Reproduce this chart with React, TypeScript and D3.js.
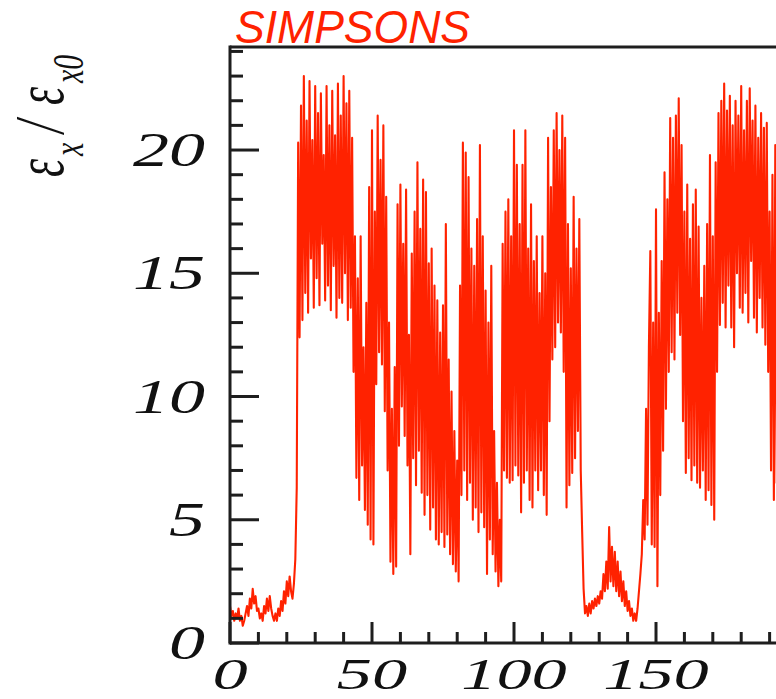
import React from 'react';
import * as d3 from 'd3';

// emittance growth eps_x / eps_x0 vs turn number, sampled every half turn
const TURN_STEP = 0.5;

const preBurst = [
  1.5, 1.1, 1.3, 0.9, 1.2, 1.0, 1.4, 0.9, 1.1, 0.7,
  0.9, 1.2, 1.5, 1.1, 1.8, 1.4, 2.2, 1.6, 1.9, 1.3,
  1.4, 1.0, 1.2, 0.9, 1.5, 1.2, 1.8, 1.3, 1.9, 1.4,
  1.1, 0.9, 1.2, 0.9, 1.4, 1.1, 1.7, 1.3, 2.1, 1.6,
  2.5, 1.9, 2.7, 2.1, 1.8, 2.4, 3.4, 6.3,
];

const firstBurst = [
  20.3, 12.4, 21.8, 13.1, 23.0, 14.2, 21.2, 13.4, 22.8, 15.6,
  20.4, 13.6, 22.6, 14.8, 21.5, 13.7, 22.3, 16.2, 19.8, 13.9,
  22.6, 14.5, 21.0, 13.5, 22.4, 15.3, 20.6, 13.2, 22.7, 14.0,
  21.4, 13.8, 23.0, 15.0, 21.9, 13.1, 22.4, 13.6, 20.5, 11.0,
];

const middleBursts = [
  16.5, 6.7, 14.8, 5.8, 16.5, 7.2, 12.0, 5.4, 13.8, 4.8,
  18.5, 4.2, 20.8, 4.0, 17.5, 10.5, 21.4, 11.8, 19.6, 11.3,
  21.0, 9.4, 18.1, 7.0, 13.0, 3.3, 9.5, 2.8, 11.2, 3.1,
  17.8, 8.0, 18.6, 9.6, 16.2, 8.4, 18.4, 7.2, 12.5, 3.6,
  15.8, 7.5, 17.5, 6.4, 19.5, 7.8, 16.8, 6.1, 18.8, 5.2,
  18.3, 6.0, 15.4, 4.6, 16.0, 5.5, 14.5, 4.2, 13.9, 4.0,
  12.6, 4.5, 13.7, 3.9, 17.0, 4.4, 11.5, 3.6, 10.2, 3.2,
  8.6, 2.9, 7.4, 2.5, 14.5, 6.0, 20.3, 7.0, 19.9, 5.8,
  18.9, 6.5, 16.0, 5.0, 15.3, 5.5, 17.2, 4.5, 20.2, 5.3,
  16.5, 4.7, 14.3, 2.8, 13.0, 4.2, 15.3, 3.6, 8.6, 2.9,
  6.5, 2.3, 5.0, 2.5, 16.2, 7.0, 17.5, 6.7, 18.0, 6.5,
  16.5, 6.6, 20.8, 7.2, 19.4, 6.8, 17.0, 5.3, 19.4, 6.5,
  20.8, 7.0, 16.0, 5.8, 17.8, 5.5, 15.5, 7.0, 16.5, 6.2,
  14.2, 7.0, 16.5, 6.0, 15.0, 5.2, 20.5, 9.0, 18.5, 11.5,
  20.8, 12.0, 21.5, 13.0, 20.0, 12.6, 21.4, 11.0, 20.5, 5.5,
  17.0, 6.4, 15.2, 6.9, 18.1, 7.5, 16.0, 8.6, 17.2, 7.0,
];

const quietStretch = [
  4.5, 2.2, 1.2, 1.5, 1.1, 1.6, 1.2, 1.7, 1.4, 1.8,
  1.5, 1.9, 1.6, 2.1, 1.8, 2.8, 2.1, 3.3, 2.2, 4.7,
  2.5, 3.9, 2.3, 3.7, 2.1, 3.3, 1.9, 2.9, 1.7, 2.5,
  1.5, 2.1, 1.3, 1.7, 1.1, 1.4, 0.9, 1.2, 0.9, 1.4,
  2.1, 2.8,
];

const secondBursts = [
  3.6, 5.8, 4.2, 9.5, 4.8, 12.0, 15.9, 4.0, 13.0, 3.9,
  17.6, 2.3, 13.4, 6.0, 15.5, 7.8, 19.1, 9.5, 18.0, 11.0,
  21.3, 11.8, 20.5, 11.5, 21.4, 13.4, 22.1, 12.5, 20.2, 9.0,
  17.5, 6.9, 18.6, 7.5, 16.4, 6.6, 17.8, 7.2, 18.4, 6.5,
  16.9, 6.3, 14.0, 7.0, 15.3, 5.8, 17.0, 6.2, 19.8, 5.6,
  16.5, 5.0, 19.5, 11.0, 21.5, 12.9, 22.0, 13.8, 22.7, 12.8,
  21.6, 14.5, 22.2, 12.8, 21.0, 12.0, 22.0, 15.0, 21.4, 13.6,
  22.6, 13.4, 20.8, 14.2, 22.0, 13.0, 22.5, 15.5, 21.2, 13.2,
  21.8, 12.6, 20.5, 14.0, 21.5, 12.8, 20.9, 12.1, 21.1, 11.0,
  17.5, 7.0, 19.0, 5.8, 20.2, 6.5, 18.2, 8.0, 16.5, 9.0,
];

const segments = [
  { start: 0, values: preBurst },
  { start: 24, values: firstBurst },
  { start: 44, values: middleBursts },
  { start: 124, values: quietStretch },
  { start: 145, values: secondBursts },
];

const yTickLabels = [0, 5, 10, 15, 20];
const xTickLabels = [0, 50, 100, 150];
const title = 'SIMPSONS';

const W = 776;
const H = 699;
const plot = { left: 230, right: 776, top: 47, bottom: 643 };
const STRETCH = 1.5; // the source image is stretched sideways

export default function App() {
  const x = d3.scaleLinear().domain([0, 192.25]).range([plot.left, plot.right]);
  const y = d3.scaleLinear().domain([0, 24.18]).range([plot.bottom, plot.top]);

  const points: [number, number][] = segments.flatMap(s =>
    s.values.map((v, i) => [s.start + i * TURN_STEP, v] as [number, number])
  );
  const line = d3.line<[number, number]>()
    .x(d => x(d[0]))
    .y(d => y(d[1]));

  const yMinor = d3.range(0, 25, 1);
  const xMinor = d3.range(0, 200, 10);
  const axisColor = '#1e1e1e';
  const numFont = { fontFamily: '"Liberation Serif", "Times New Roman", serif', fontStyle: 'italic' as const };

  return (
    <svg width={W} height={H} style={{ position: 'absolute', left: 0, top: 0, background: '#fff' }}>
      <defs>
        <clipPath id="plot-clip">
          <rect x={plot.left} y={plot.top} width={plot.right - plot.left} height={plot.bottom - plot.top} />
        </clipPath>
      </defs>

      <path d={line(points) || ''} fill="none" stroke="#ff2200" strokeWidth={2.1}
        strokeLinejoin="round" clipPath="url(#plot-clip)" />

      {/* frame */}
      <g stroke={axisColor} strokeWidth={3}>
        <line x1={plot.left} x2={plot.right} y1={plot.top} y2={plot.top} />
        <line x1={plot.left} x2={plot.left} y1={plot.top - 1.5} y2={plot.bottom + 1.5} />
        <line x1={plot.left} x2={plot.right} y1={plot.bottom} y2={plot.bottom} />
        {yMinor.map(v => (
          <line key={'ym' + v} x1={plot.left} x2={plot.left + (v % 5 === 0 ? 29 : 13)}
            y1={y(v)} y2={y(v)} />
        ))}
        {xMinor.filter(v => x(v) < W).map(v => (
          <line key={'xm' + v} x1={x(v)} x2={x(v)} y1={plot.bottom}
            y2={plot.bottom - (v % 50 === 0 ? 21 : 11)} />
        ))}
      </g>

      {yTickLabels.map(v => (
        <text key={'yl' + v} transform={`translate(205, ${y(v) + 16}) scale(${STRETCH}, 1)`}
          textAnchor="end" fontSize={48} fill="#111" style={numFont}>{v}</text>
      ))}
      {xTickLabels.map(v => (
        <text key={'xl' + v} transform={`translate(${x(v)}, 689) scale(1.6, 1)`}
          textAnchor="middle" fontSize={44} fill="#111" style={numFont}>{v}</text>
      ))}

      {/* y-axis title: eps_x / eps_x0 */}
      <text transform={`translate(63, 177) rotate(-90) scale(1, ${STRETCH})`} fill="#111" style={numFont}>
        <tspan x={0} y={0} fontSize={46}>ε</tspan>
        <tspan x={21} y={13} fontSize={30}>x</tspan>
        <tspan x={44} y={0} fontSize={46}>/</tspan>
        <tspan x={72} y={0} fontSize={46}>ε</tspan>
        <tspan x={94} y={13} fontSize={30}>x0</tspan>
      </text>

      <text x={235} y={43} fontSize={46} fill="#ff2200" textLength={235} lengthAdjust="spacingAndGlyphs"
        style={{ fontFamily: '"Liberation Sans", Arial, sans-serif', fontStyle: 'italic' }}>{title}</text>
    </svg>
  );
}
